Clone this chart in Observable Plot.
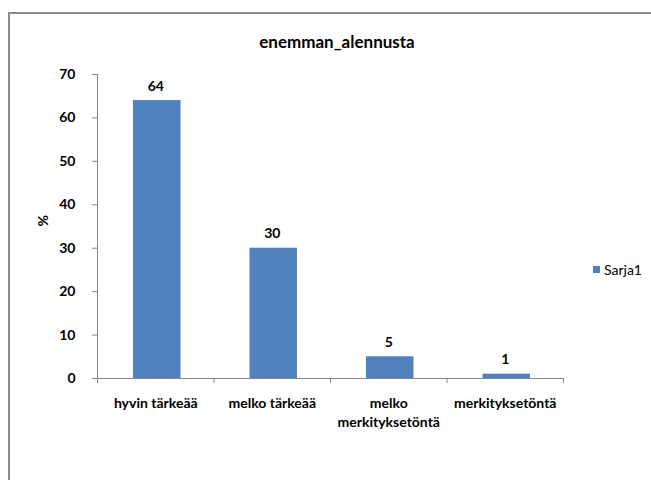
<!DOCTYPE html>
<html>
<head>
<meta charset="utf-8">
<script src="https://cdn.jsdelivr.net/npm/d3@7"></script>
<script src="https://cdn.jsdelivr.net/npm/@observablehq/plot@0.6"></script>
<style>
  html, body { margin: 0; padding: 0; background: #fff; }
  #chart { position: relative; width: 651px; height: 480px; overflow: hidden;
           font-family: Lato, "Liberation Sans", sans-serif; color: #000; }
  #frame { position: absolute; left: 8px; top: 12px; width: 700px; height: 520px;
           border-left: 2px solid #8a8a8a; border-top: 2px solid #8a8a8a; }
  #plot { position: absolute; left: 0; top: 0; }
  #title { position: absolute; left: 0; width: 674px; top: 31px; text-align: center;
           font-size: 17px; font-weight: 700; }
  #legend { position: absolute; left: 593px; top: 261px; font-size: 14px;
            display: flex; align-items: center; }
  #legend .sw { display: inline-block; width: 7px; height: 7px; margin-right: 4px; }
</style>
</head>
<body>
<div id="chart">
  <div id="frame"></div>
  <div id="plot"></div>
  <div id="title"></div>
  <div id="legend"></div>
</div>
<script>
// Survey answers (%) for "enemman_alennusta"
const chartTitle = "enemman_alennusta";
const categories = ["hyvin tärkeää", "melko tärkeää", "melko\nmerkityksetöntä", "merkityksetöntä"];
const values = [64, 30, 5, 1];
const yTicks = [0, 10, 20, 30, 40, 50, 60, 70];
const seriesName = "Sarja1";
const barColor = "#4F81BD";
const axisGray = "#868686";

const rows = categories.map((category, index) => ({category, index, value: values[index]}));

const chart = Plot.plot({
  width: 651,
  height: 480,
  marginLeft: 97,
  marginRight: 88,
  marginTop: 74,
  marginBottom: 102,
  style: {fontFamily: 'Lato, "Liberation Sans", sans-serif', fontSize: "14px", color: "#000", background: "transparent", overflow: "visible"},
  x: {domain: [0, categories.length], axis: null},
  y: {domain: [0, d3.max(yTicks)], axis: null},
  marks: [
    Plot.axisY({ticks: yTicks, tickSize: 5, tickPadding: 17, stroke: axisGray, fontWeight: "bold", label: null}),
    Plot.axisX({ticks: d3.range(categories.length + 1), tickSize: 5, tickFormat: () => "", stroke: axisGray, label: null}),
    Plot.ruleY([0], {stroke: axisGray}),
    Plot.frame({anchor: "left", stroke: axisGray}),
    Plot.rectY(rows, {x1: d => d.index, x2: d => d.index + 1, y: "value", insetLeft: 36, insetRight: 33, fill: barColor}),
    Plot.text(rows, {x: d => d.index + 0.5, y: "value", text: d => String(d.value), dy: -10, lineAnchor: "bottom", fontWeight: "bold"}),
    Plot.text(rows, {x: d => d.index + 0.5, y: 0, text: "category", lineAnchor: "top", dy: 17, lineHeight: 1.3, fontWeight: "bold"}),
    Plot.text(["%"], {frameAnchor: "left", dx: -54, rotate: -90, fontWeight: "bold"})
  ]
});
document.getElementById("plot").appendChild(chart);

document.getElementById("title").textContent = chartTitle;
const legend = document.getElementById("legend");
const sw = document.createElement("span");
sw.className = "sw";
sw.style.background = barColor;
legend.appendChild(sw);
legend.appendChild(document.createTextNode(seriesName));
</script>
</body>
</html>
